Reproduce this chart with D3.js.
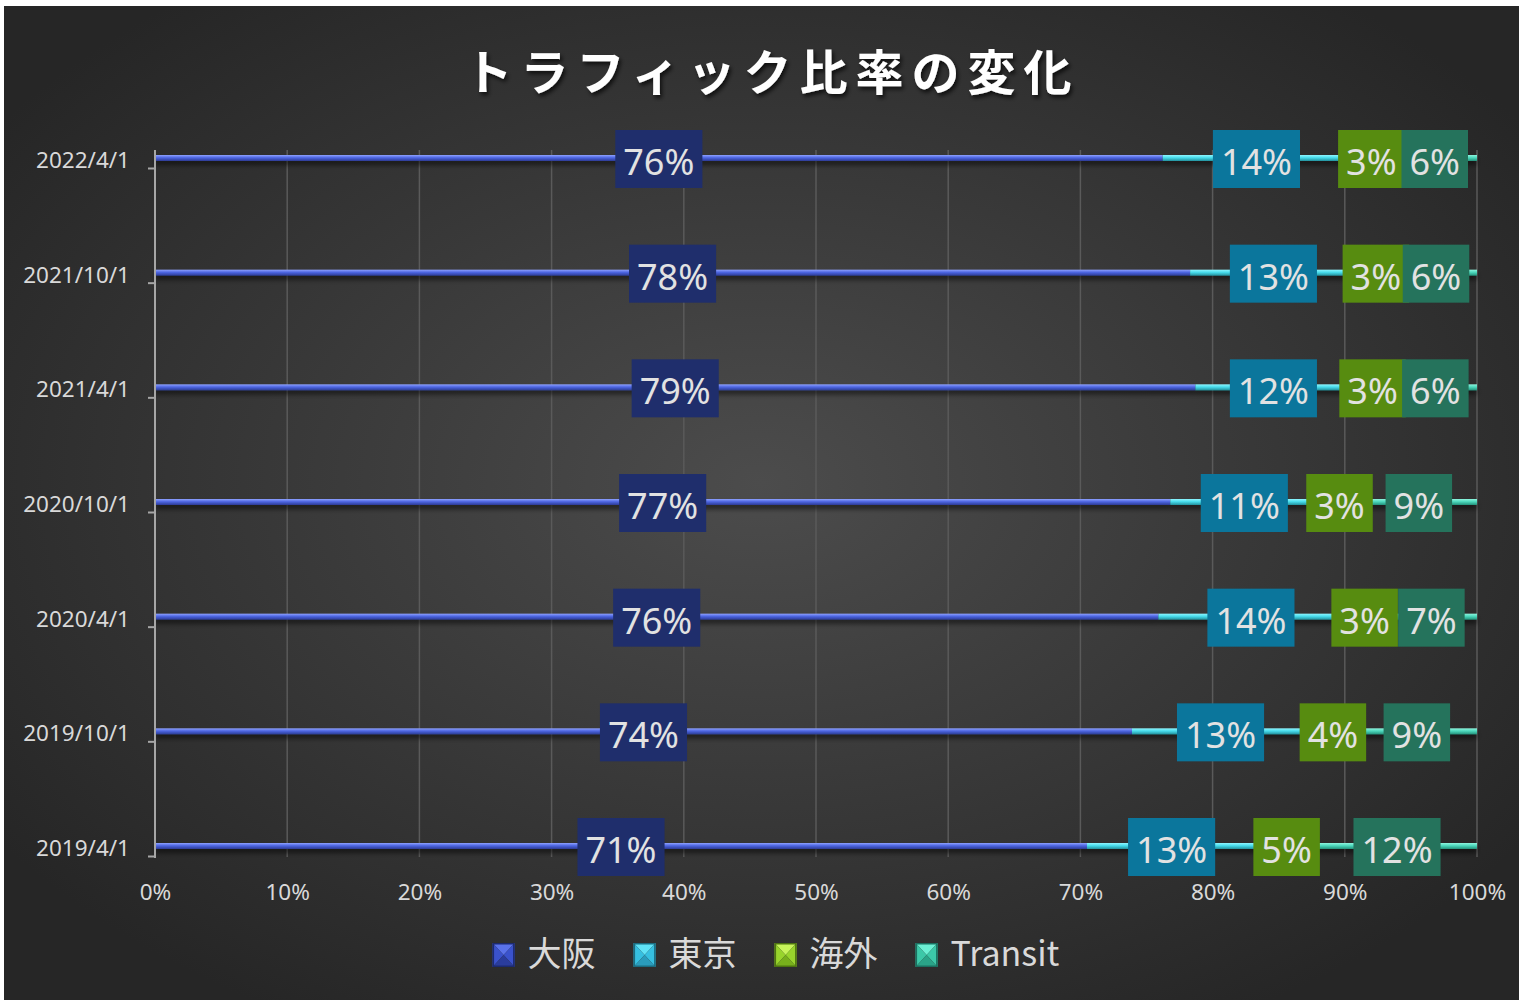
<!DOCTYPE html>
<html>
<head>
<meta charset="utf-8">
<script src="https://cdn.jsdelivr.net/npm/d3@7"></script>
<style>
  body { margin: 0; background: #fff; }
  svg { display: block; }
</style>
</head>
<body>
<svg></svg>
<script>
let width = 1519;
let height = 1000;

let categories = ["2022/4/1", "2021/10/1", "2021/4/1", "2020/10/1", "2020/4/1", "2019/10/1", "2019/4/1"];
let seriesNames = ["大阪", "東京", "海外", "Transit"];
let osaka   = [76.3, 78.3, 78.7, 76.8, 75.9, 73.9, 70.5];
let tokyo   = [14.2, 12.6, 11.8, 11.2, 14.0, 13.4, 12.8];
let kaigai  = [3.2, 2.9, 3.2, 3.2, 3.2, 3.6, 4.6];
let transit = [6.4, 6.2, 6.3, 8.8, 6.9, 9.1, 12.1];
let xTicks = [0, 0.1, 0.2, 0.3, 0.4, 0.5, 0.6, 0.7, 0.8, 0.9, 1];

let barColors = [
  ["#8fa2ff", "#4d66e2", "#2b3b94"],
  ["#8ff6ff", "#47dcec", "#23909c"],
  ["#c8f060", "#92d22a", "#567f12"],
  ["#8ff5de", "#4cd8bc", "#23917a"]
];
let legendColors = [
  ["#5a72ea", "#3a52cc", "#2a3c9c", "#1c2a70"],
  ["#5fe2f6", "#36bfe0", "#2a9cbc", "#1a6c80"],
  ["#c8f45a", "#98d42c", "#78b01c", "#4c7410"],
  ["#6cf0d4", "#3cc8a8", "#2aa488", "#1a7060"]
];
let labelColors = ["#1f2e6c", "#0b769c", "#578c10", "#25735c"];

let rows = categories.map((c, i) => ({
  cat: c, "大阪": osaka[i], "東京": tokyo[i], "海外": kaigai[i], "Transit": transit[i]
}));

let svg = d3.select("svg").attr("width", width).attr("height", height);
let defs = svg.append("defs");

let bg = defs.append("radialGradient").attr("id", "bg")
  .attr("cx", "50%").attr("cy", "48%").attr("r", "62%");
bg.append("stop").attr("offset", "0%").attr("stop-color", "#4c4c4c");
bg.append("stop").attr("offset", "100%").attr("stop-color", "#262626");

barColors.forEach((c, i) => {
  let g = defs.append("linearGradient").attr("id", "bar" + i)
    .attr("x1", 0).attr("y1", 0).attr("x2", 0).attr("y2", 1);
  g.append("stop").attr("offset", "0%").attr("stop-color", c[0]);
  g.append("stop").attr("offset", "45%").attr("stop-color", c[1]);
  g.append("stop").attr("offset", "100%").attr("stop-color", c[2]);
});

let sh = defs.append("filter").attr("id", "shadow").attr("x", "-5%").attr("y", "-50%").attr("width", "110%").attr("height", "300%");
sh.append("feDropShadow").attr("dx", 0).attr("dy", 4).attr("stdDeviation", 2.5).attr("flood-color", "#000").attr("flood-opacity", 0.55);

let tsh = defs.append("filter").attr("id", "tshadow").attr("x", "-5%").attr("y", "-30%").attr("width", "110%").attr("height", "160%");
tsh.append("feDropShadow").attr("dx", 2).attr("dy", 3).attr("stdDeviation", 2).attr("flood-color", "#000").attr("flood-opacity", 0.7);

// background
svg.append("rect").attr("x", 4).attr("y", 6).attr("width", width - 4).attr("height", height - 6)
  .attr("fill", "url(#bg)");

let x = d3.scaleLinear().domain([0, 1]).range([155, 1477]);
let y = d3.scalePoint().domain(categories).range([158, 846]);

// gridlines
svg.append("g").selectAll("line").data(xTicks.slice(1)).enter().append("line")
  .attr("x1", d => x(d)).attr("x2", d => x(d))
  .attr("y1", 150).attr("y2", 857)
  .attr("stroke", "#5a5a5a").attr("stroke-width", 1.5);

// title
svg.append("text")
  .attr("x", 772).attr("y", 90)
  .attr("text-anchor", "middle")
  .attr("fill", "#ffffff")
  .attr("font-family", "'Noto Sans CJK JP'")
  .attr("font-weight", "bold")
  .attr("font-size", 48)
  .attr("letter-spacing", 8)
  .attr("filter", "url(#tshadow)")
  .text("トラフィック比率の変化");

// stacked bars
let stack = d3.stack().keys(seriesNames).offset(d3.stackOffsetExpand);
let layers = stack(rows);

let barH = 6;
let barG = svg.append("g").attr("filter", "url(#shadow)");
layers.forEach((layer, i) => {
  barG.selectAll(".b" + i).data(layer).enter().append("rect")
    .attr("class", "b" + i)
    .attr("x", d => x(d[0]))
    .attr("y", d => y(d.data.cat) - barH / 2)
    .attr("width", d => x(d[1]) - x(d[0]))
    .attr("height", barH)
    .attr("fill", "url(#bar" + i + ")");
});

// y axis
let yAxis = d3.axisLeft(y).tickSize(7).tickPadding(18);
let yG = svg.append("g").attr("transform", "translate(155,0)").call(yAxis);
yG.select(".domain").remove();
yG.selectAll(".tick line").attr("stroke", "#a6a6a6").attr("stroke-width", 2).attr("transform", "translate(0,10)");
yG.selectAll(".tick text")
  .attr("fill", "#d9d9d9")
  .attr("font-family", "'Noto Sans'")
  .attr("font-size", 22.5)
  .attr("dy", "0.42em");
svg.append("line").attr("x1", 155).attr("x2", 155).attr("y1", 150).attr("y2", 858)
  .attr("stroke", "#a6a6a6").attr("stroke-width", 2);

// x axis
let xAxis = d3.axisBottom(x).tickValues(xTicks).tickFormat(d3.format(".0%")).tickSize(0).tickPadding(0);
let xG = svg.append("g").attr("transform", "translate(0,900)").call(xAxis);
xG.select(".domain").remove();
xG.selectAll(".tick text")
  .attr("fill", "#d9d9d9")
  .attr("font-family", "'Noto Sans'")
  .attr("font-size", 22.5)
  .attr("dy", 0);

// data labels
let labG = svg.append("g");
layers.forEach((layer, i) => {
  layer.forEach(d => {
    let raw = d.data[seriesNames[i]];
    let cx = x((d[0] + d[1]) / 2);
    let cy = y(d.data.cat) + 1;
    let g = labG.append("g");
    let rect = g.append("rect").attr("fill", labelColors[i]);
    let t = g.append("text")
      .attr("x", cx).attr("y", cy + 16)
      .attr("text-anchor", "middle")
      .attr("fill", "#e2e2e2")
      .attr("font-family", "'Noto Sans'")
      .attr("font-size", 36)
      .text(Math.round(raw) + "%");
    let w = t.node().getComputedTextLength() + 16;
    rect.attr("x", cx - w / 2).attr("y", cy - 29).attr("width", w).attr("height", 58);
  });
});

// legend
let legG = svg.append("g");
let lx = 0;
seriesNames.forEach((name, i) => {
  let g = legG.append("g").attr("transform", "translate(" + lx + ",0)");
  let c = legendColors[i];
  g.append("polygon").attr("points", "0,-23 22,-23 11,-11").attr("fill", c[0]);
  g.append("polygon").attr("points", "0,-23 11,-11 0,1").attr("fill", c[1]);
  g.append("polygon").attr("points", "22,-23 11,-11 22,1").attr("fill", c[1]);
  g.append("polygon").attr("points", "0,1 22,1 11,-11").attr("fill", c[2]);
  g.append("rect").attr("x", 0.75).attr("y", -22.25).attr("width", 20.5).attr("height", 22.5)
    .attr("fill", "none").attr("stroke", c[3]).attr("stroke-width", 1.5);
  let t = g.append("text").attr("x", 35).attr("y", 0)
    .attr("fill", "#d9d9d9")
    .attr("font-family", "'Noto Sans CJK JP'")
    .attr("font-size", 34)
    .text(name);
  let tw = t.node().getComputedTextLength();
  lx += 35 + tw + 38;
});
let legW = lx - 38;
legG.attr("transform", "translate(" + (776 - legW / 2) + ",966)");
</script>
</body>
</html>
